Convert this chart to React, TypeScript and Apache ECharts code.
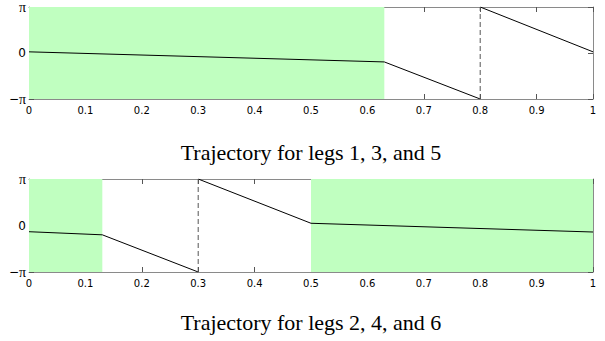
import React, { useEffect, useRef } from "react";
import * as echarts from "echarts";

const PI = Math.PI;

// Top plot (legs 1, 3, 5)
const topSeg1X = [0, 0.63, 0.8];
const topSeg1Y = [0.08, -0.61, -PI];
const topSeg2X = [0.8, 1];
const topSeg2Y = [PI, 0.08];
const topJumpX = 0.8;
const topGreen = [[0, 0.63]];

// Bottom plot (legs 2, 4, 6)
const botSeg1X = [0, 0.13, 0.3];
const botSeg1Y = [-0.42, -0.63, -PI];
const botSeg2X = [0.3, 0.5, 1];
const botSeg2Y = [PI, 0.15, -0.44];
const botJumpX = 0.3;
const botGreen = [[0, 0.13], [0.5, 1]];

const captions = ["Trajectory for legs 1, 3, and 5", "Trajectory for legs 2, 4, and 6"];

const zip = (xs: number[], ys: number[]) => xs.map((x, i) => [x, ys[i]]);

export default function App() {
  const ref = useRef<HTMLDivElement>(null);
  useEffect(() => {
    if (!ref.current) return;
    const chart = echarts.init(ref.current, undefined, { renderer: "svg" });
    const frame = "#8a8a8a";
    const tickC = "#555";
    const grids = [
      { left: 29, right: 12, top: 5, height: 94 },
      { left: 29, right: 12, top: 179, height: 93 },
    ];
    const xAxes: any[] = [];
    const yAxes: any[] = [];
    grids.forEach((_, g) => {
      ["bottom", "top"].forEach((pos) => {
        xAxes.push({
          type: "value",
          gridIndex: g,
          position: pos,
          min: 0,
          max: 1,
          interval: 0.1,
          splitLine: { show: false },
          axisLine: { show: true, onZero: false, lineStyle: { color: frame, width: 1 } },
          axisTick: { show: true, inside: true, length: 5, lineStyle: { color: tickC } },
          axisLabel: {
            show: pos === "bottom",
            margin: 6,
            color: "#000",
            fontFamily: "DejaVu Sans",
            fontSize: 10,
            formatter: (v: number) => (v === 0 ? "0" : v === 1 ? "1" : v.toFixed(1)),
          },
        });
      });
      ["left", "right"].forEach((pos) => {
        yAxes.push({
          type: "value",
          gridIndex: g,
          position: pos,
          min: -PI,
          max: PI,
          interval: PI,
          splitLine: { show: false },
          axisLine: { show: true, onZero: false, lineStyle: { color: frame, width: 1 } },
          axisTick: { show: true, inside: true, length: 5, lineStyle: { color: tickC } },
          axisLabel: {
            show: pos === "left",
            margin: 3,
            color: "#000",
            formatter: (v: number) => (v > 1 ? "{p|π}" : v < -1 ? "{s|−}{p|π}" : "{s|0}"),
            rich: {
              p: { fontFamily: "Liberation Serif", fontSize: 14, color: "#000" },
              s: { fontFamily: "DejaVu Sans", fontSize: 12, color: "#000" },
            },
          },
        });
      });
    });

    const lineStyle = { color: "#000", width: 1 };
    const mk = (g: number, data: number[][], extra: any = {}) => ({
      type: "line",
      xAxisIndex: 2 * g,
      yAxisIndex: 2 * g,
      data,
      showSymbol: false,
      symbol: "none",
      lineStyle,
      z: 3,
      ...extra,
    });
    const green = (g: number, ranges: number[][]) => ({
      type: "line",
      xAxisIndex: 2 * g,
      yAxisIndex: 2 * g,
      data: [],
      z: 1,
      markArea: {
        silent: true,
        itemStyle: { color: "#c0ffc0", opacity: 1 },
        data: ranges.map((r) => [{ xAxis: r[0] }, { xAxis: r[1] }]),
      },
    });
    const dashed = (g: number, x: number) =>
      mk(g, [[x, -PI], [x, PI]], { lineStyle: { color: "#555", width: 1, type: [5, 3] } });

    const caption = (text: string, y: number) => ({
      type: "text",
      x: 311,
      y,
      style: {
        text,
        fontFamily: "Liberation Serif",
        fontSize: 22,
        fill: "#000",
        textAlign: "center",
        textVerticalAlign: "middle",
      },
    });

    chart.setOption({
      animation: false,
      grid: grids.map((gr) => ({ ...gr, containLabel: false })),
      xAxis: xAxes,
      yAxis: yAxes,
      series: [
        green(0, topGreen),
        mk(0, zip(topSeg1X, topSeg1Y)),
        mk(0, zip(topSeg2X, topSeg2Y)),
        dashed(0, topJumpX),
        green(1, botGreen),
        mk(1, zip(botSeg1X, botSeg1Y)),
        mk(1, zip(botSeg2X, botSeg2Y)),
        dashed(1, botJumpX),
      ],
      graphic: [caption(captions[0], 152), caption(captions[1], 322)],
    });
    return () => chart.dispose();
  }, []);
  return (
    <div
      ref={ref}
      style={{ position: "fixed", left: 0, top: 0, width: 605, height: 341, background: "#fff" }}
    />
  );
}
